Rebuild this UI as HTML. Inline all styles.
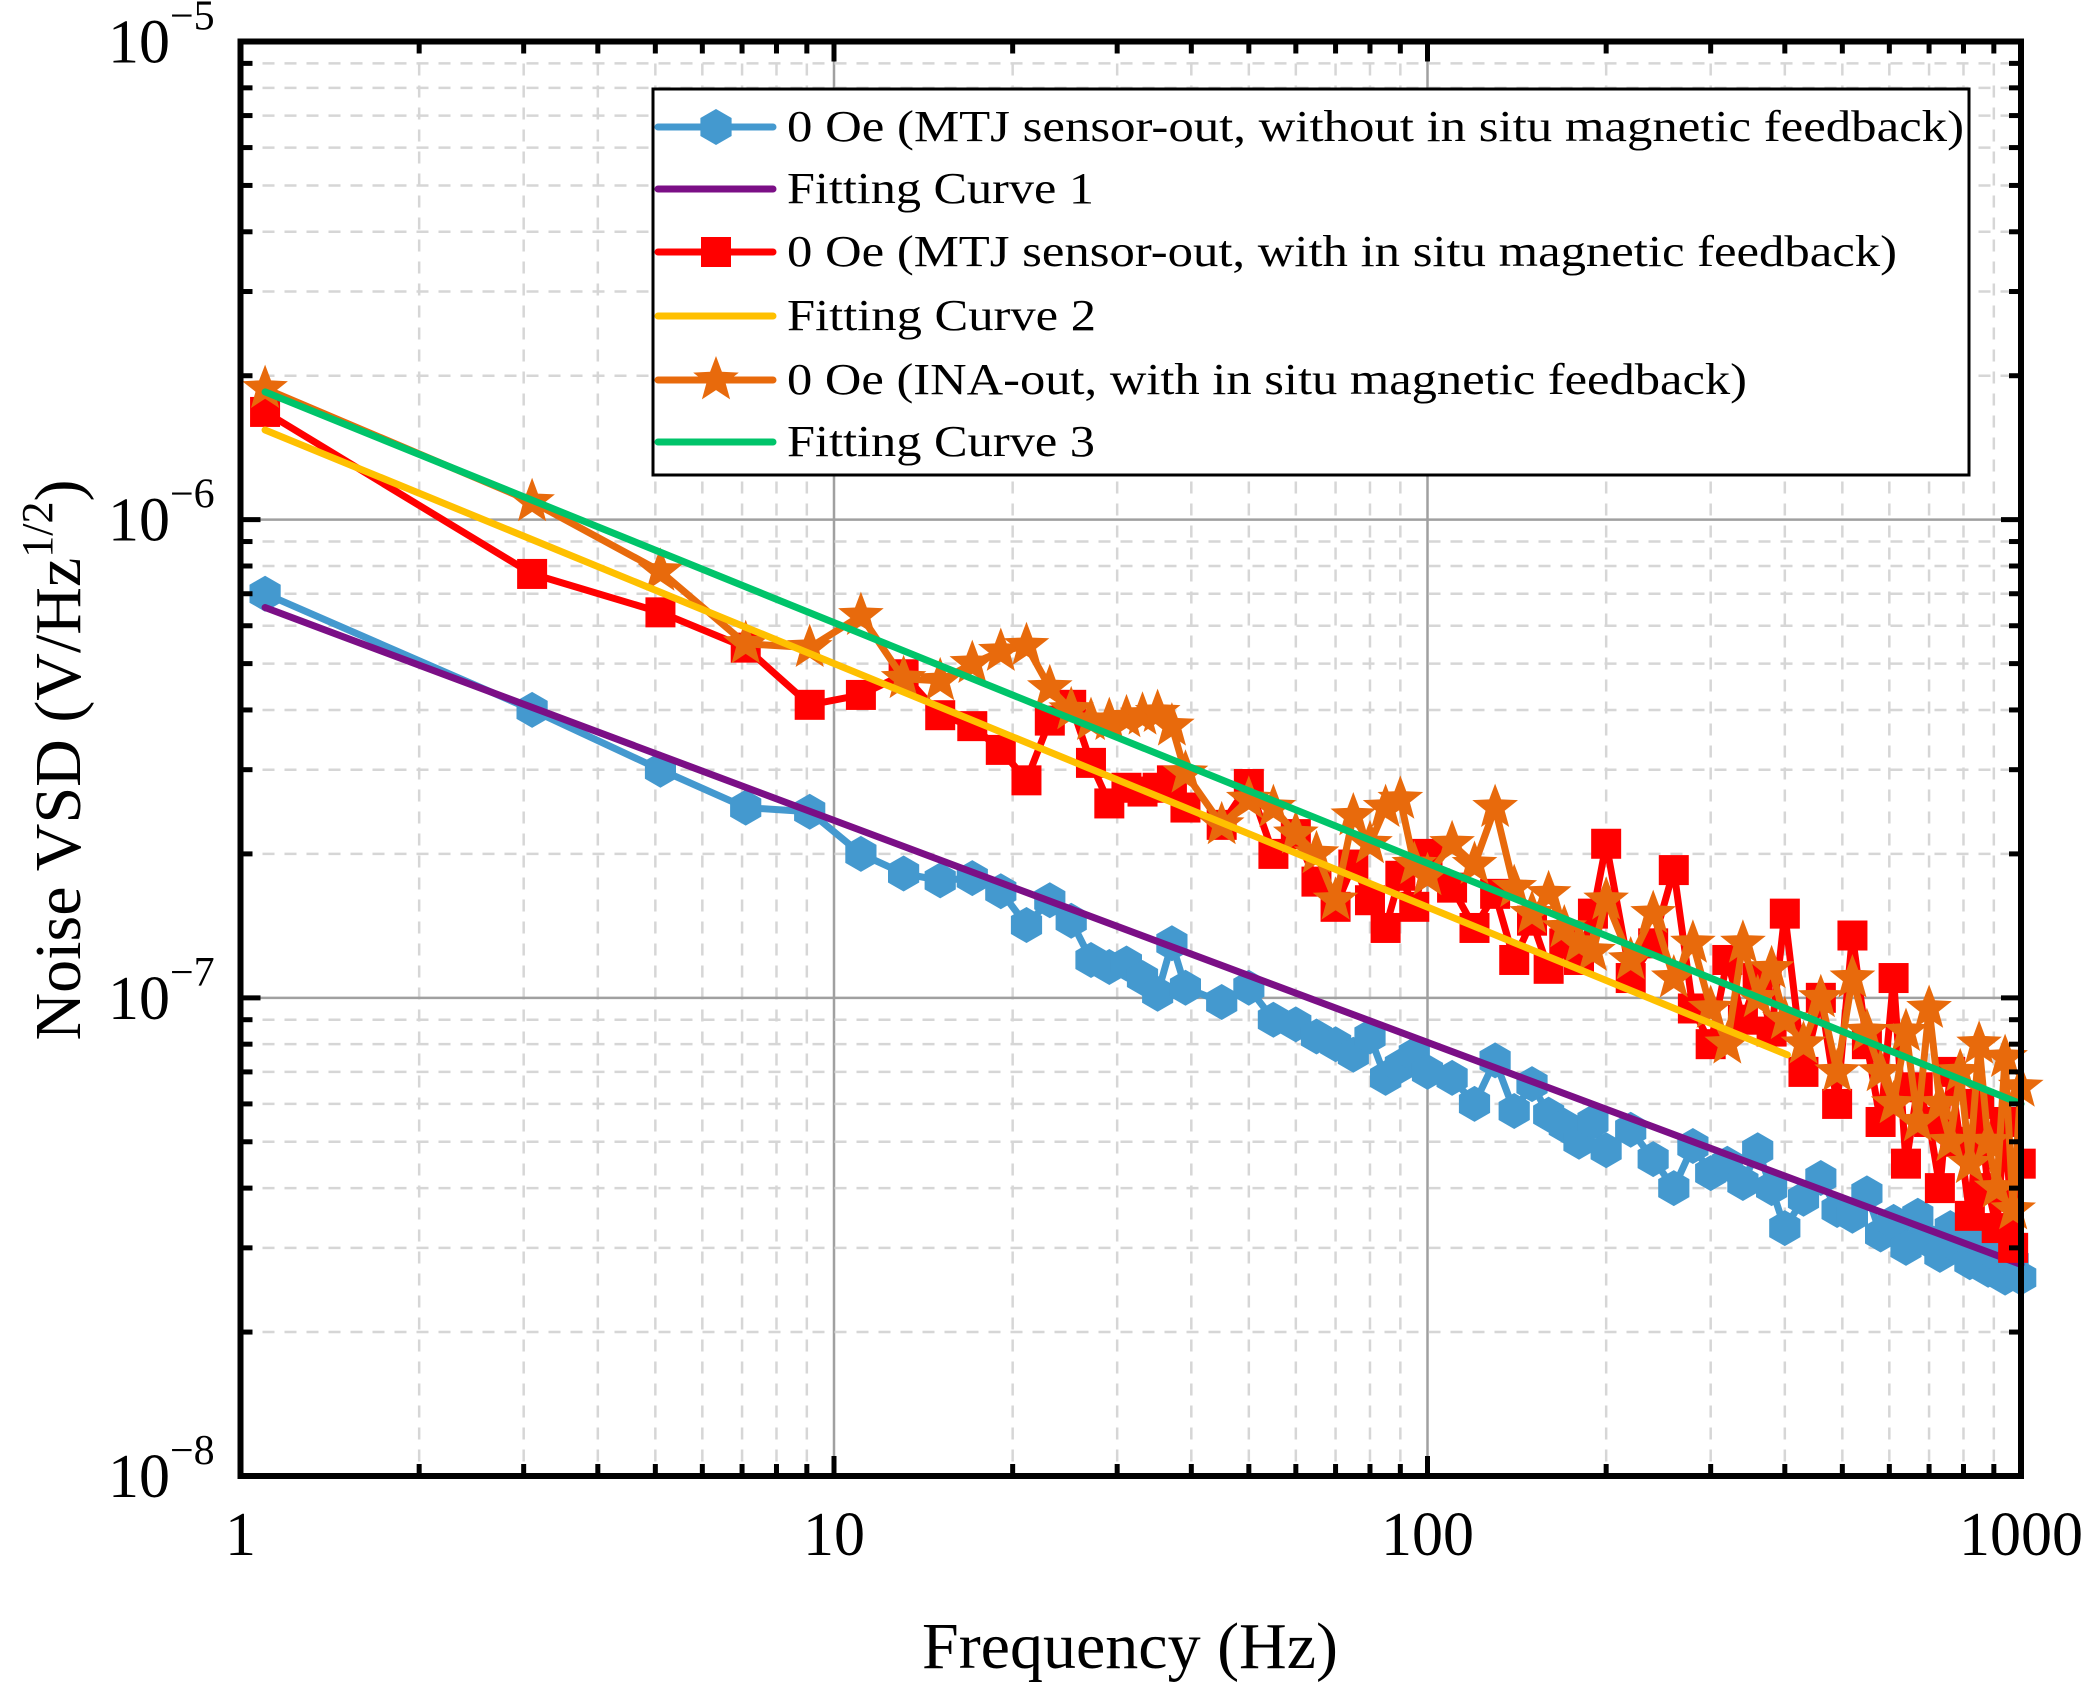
<!DOCTYPE html>
<html><head><meta charset="utf-8"><style>
html,body{margin:0;padding:0;background:#fff;}
svg{display:block;font-family:"Liberation Serif","Times New Roman",serif;}
text{font-family:"Liberation Serif","Times New Roman",serif;}
</style></head><body>
<svg id="chart" width="2092" height="1693" viewBox="0 0 2092 1693" xmlns="http://www.w3.org/2000/svg">
<rect x="0" y="0" width="2092" height="1693" fill="#fff"/>
<g id="grid"></g>
<g id="series"></g>
<g id="axes"></g>
<g id="legend"></g>
</svg>
<script>
// ---- data (values in units of 1e-8 V/Hz^1/2) ----
const freqs = [1.1,3.1,5.1,7.1,9.1,11.1,13.1,15.1,17.1,19.1,21.1,23.1,25.1,27.1,29.1,31.1,33.1,35.1,37.1,39.1,
 45,50,55,60,65,70,75,80,85,90,95,100,110,120,130,140,150,160,170,180,190,200,220,240,260,280,300,320,340,360,380,400,
 430,460,490,520,550,580,610,640,670,700,730,760,790,820,850,880,910,940,970,999];
const blueVals = [70,40,30,25,24.5,20,18.2,17.6,17.8,16.7,14.2,16,14.5,12,11.6,11.8,11,10.2,13,10.5,
 9.8,10.5,9.0,8.8,8.3,8.0,7.6,8.3,6.8,7.2,7.6,7.0,6.8,6.0,7.4,5.8,6.6,5.7,5.4,5.0,5.5,4.8,5.3,4.6,4.0,4.9,4.3,4.5,4.1,4.8,4.0,3.3,
 3.8,4.2,3.6,3.5,3.9,3.2,3.4,3.0,3.5,3.1,2.9,3.3,3.0,2.8,3.1,2.7,2.9,2.6,2.8,2.6];
const redVals = [168,77,64,54,41,43,47.5,39,37,33,28.5,38,41,31,25.5,27.5,27,27.5,28.5,25,
 23,28,20,22,17.5,15.5,19,16,14,18,15.5,20,17,14,16.5,12,14.5,11.5,13,12,15,21,11,13,18.5,9.5,8,12,9,11,8.5,15,
 7,10,6,13.5,8,5.5,11,4.5,6.5,5.5,4,7,5,3.5,6,4,3.3,5.5,3,4.5];
const orangeVals = [188,109,78,55,54,63,46.5,46,50,53,54.5,44.5,40,38,38,38.5,39,39.5,37,29.5,
 23,26,25,22,20,16,24,21,25,26,19,18,21,19,25,17,15,16.5,14,13,12.5,16,12,15,11,13,9.5,8,13,10,11.5,9,
 8,10,7,11,8.5,7,6,8.5,5.5,9.5,6,5,7,4.5,8,5,4,7.5,3.6,6.5];
// fitted power-law curves: [start freq, start value, end freq, end value]
const fit1 = [1.1,65.5,1000,2.77];
const fit2 = [1.1,154,404,7.6];
const fit3 = [1.1,185,1000,6.0];
const xTicks = [1,10,100,1000];
const xTickLabels = ["1","10","100","1000"];
const yTickExps = [-5,-6,-7,-8];

// ---- axes ----
const L=240.5,R=2021,T=41.5,B=1476;
const xs = f => L + (Math.log10(f)-0)/3*(R-L);
const ys = v => T + (-5 - Math.log10(v*1e-8))/3*(B-T);
const NS="http://www.w3.org/2000/svg";
function mk(tag, parent, attrs){const e=document.createElementNS(NS,tag);for(const k in attrs)e.setAttribute(k,attrs[k]);parent.appendChild(e);return e;}
const grid=document.getElementById('grid'), ser=document.getElementById('series'), ax=document.getElementById('axes'), lg=document.getElementById('legend');

for(let d=0; d<3; d++){
  for(let m=1;m<=9;m++){
    const f=Math.pow(10,d)*m; const x=xs(f);
    if(m===1){ if(d>0){const g=mk('line',grid,{x1:x,x2:x,y1:T,y2:B,stroke:'#a0a0a0','stroke-width':2.5});
      
      } }
    else {const g=mk('line',grid,{x1:x,x2:x,y1:T,y2:B,stroke:'#d6d6d6','stroke-width':2.5,'stroke-dasharray':'12 10'});
      
      }
    const len = m===1?20:12;
    if(!(m===1&&d===0)){
      mk('line',ax,{x1:x,x2:x,y1:B,y2:B-len,stroke:'#000','stroke-width':5});
      mk('line',ax,{x1:x,x2:x,y1:T,y2:T+len,stroke:'#000','stroke-width':5});
    }
  }
}
for(let d=-8; d<-5; d++){
  for(let m=1;m<=9;m++){
    const v=m*Math.pow(10,d)/1e-8; const y=ys(v);
    if(m===1){ if(d>-8){const g=mk('line',grid,{x1:L,x2:R,y1:y,y2:y,stroke:'#a0a0a0','stroke-width':2.5});
      
      } }
    else {const g=mk('line',grid,{x1:L,x2:R,y1:y,y2:y,stroke:'#d6d6d6','stroke-width':2.5,'stroke-dasharray':'12 10'});
      
      }
    const len = m===1?20:12;
    if(!(m===1&&d===-8)){
      mk('line',ax,{x1:L,x2:L+len,y1:y,y2:y,stroke:'#000','stroke-width':5});
      mk('line',ax,{x1:R,x2:R-len,y1:y,y2:y,stroke:'#000','stroke-width':5});
    }
  }
}
const frame=mk('rect',ax,{x:L,y:T,width:R-L,height:B-T,fill:'none',stroke:'#000','stroke-width':6});



xTicks.forEach((f,i)=>{
  const t=mk('text',ax,{x:xs(f),y:1555,'font-size':62,'text-anchor':'middle',fill:'#000'});
  t.textContent=xTickLabels[i];
  
  
});
yTickExps.forEach(e=>{
  const y=ys(Math.pow(10,e)/1e-8);
  const t=mk('text',ax,{x:170,y:y+21,'font-size':62,'text-anchor':'end',fill:'#000'});
  t.textContent='10';
  
  
  const s=mk('text',ax,{x:170,y:y-12,'font-size':42,'text-anchor':'start',fill:'#000'});
  s.textContent='\u2212'+Math.abs(e);
  
  
});
const xt=mk('text',ax,{x:1130,y:1668,'font-size':66,'text-anchor':'middle',fill:'#000'});
xt.textContent='Frequency (Hz)';


const yt=mk('text',ax,{x:0,y:0,'font-size':66,'text-anchor':'middle',fill:'#000',transform:'translate(80,760) rotate(-90)'});
yt.innerHTML='Noise VSD (V/Hz<tspan font-size="44" dy="-28">1/2</tspan><tspan dy="28">)</tspan>';



// ---- markers ----
function hexPts(cx,cy,r){let p=[];for(let k=0;k<6;k++){const a=Math.PI/2+k*Math.PI/3;p.push((cx+r*Math.cos(a)).toFixed(1)+','+(cy-r*Math.sin(a)).toFixed(1));}return p.join(' ');}
function starPts(cx,cy,r){let p=[];for(let k=0;k<10;k++){const rr=k%2?r*0.42:r;const a=Math.PI/2+k*Math.PI/5;p.push((cx+rr*Math.cos(a)).toFixed(1)+','+(cy-rr*Math.sin(a)).toFixed(1));}return p.join(' ');}
function marker(parent,type,cx,cy,color){
  if(type==='hex') return mk('polygon',parent,{points:hexPts(cx,cy,18),fill:color});
  if(type==='sq') return mk('rect',parent,{x:cx-15,y:cy-15,width:30,height:30,fill:color});
  return mk('polygon',parent,{points:starPts(cx,cy,24),fill:color});
}
function dataSeries(vals,color,type,name){
  const g=mk('g',ser,{});
  
  
  const d=vals.map((v,i)=>(i?'L':'M')+xs(freqs[i]).toFixed(1)+','+ys(v).toFixed(1)).join('');
  mk('path',g,{d:d,fill:'none',stroke:color,'stroke-width':7,'stroke-linejoin':'round'});
  vals.forEach((v,i)=>{
    const m=marker(g,type,xs(freqs[i]),ys(v),color);
    
    
  });
}
function fitLine(fit,color,name){
  const l=mk('line',ser,{x1:xs(fit[0]),y1:ys(fit[1]),x2:xs(fit[2]),y2:ys(fit[3]),stroke:color,'stroke-width':7,'stroke-linecap':'round'});
  
  
}
dataSeries(blueVals,'#4499cf','hex','series-mtj-without-feedback');
fitLine(fit1,'#7b0f86','fitting-curve-1');
dataSeries(redVals,'#ff0000','sq','series-mtj-with-feedback');
dataSeries(orangeVals,'#e86a0c','star','series-ina-with-feedback');
fitLine(fit2,'#ffc000','fitting-curve-2');
fitLine(fit3,'#00c46a','fitting-curve-3');

// ---- legend ----
const lb=mk('rect',lg,{x:653,y:89,width:1316,height:386,fill:'#fff',stroke:'#000','stroke-width':3});


const legItems=[
 ['0 Oe (MTJ sensor-out, without in situ magnetic feedback)','#4499cf','hex',1177],
 ['Fitting Curve 1','#7b0f86',null,307],
 ['0 Oe (MTJ sensor-out, with in situ magnetic feedback)','#ff0000','sq',1110],
 ['Fitting Curve 2','#ffc000',null,309],
 ['0 Oe (INA-out, with in situ magnetic feedback)','#e86a0c','star',960],
 ['Fitting Curve 3','#00c46a',null,308]];
const rowY=[127,189,252,316,380,442];
legItems.forEach((it,i)=>{
  const g=mk('g',lg,{});
  
  
  const y=rowY[i];
  mk('line',g,{x1:658,x2:773,y1:y,y2:y,stroke:it[1],'stroke-width':7,'stroke-linecap':'round'});
  if(it[2]) marker(g,it[2],716,y,it[1]);
  const t=mk('text',g,{x:787,y:y+14,'font-size':44,fill:'#000',textLength:it[3],lengthAdjust:'spacingAndGlyphs'});
  t.textContent=it[0];
});
</script>
</body></html>
